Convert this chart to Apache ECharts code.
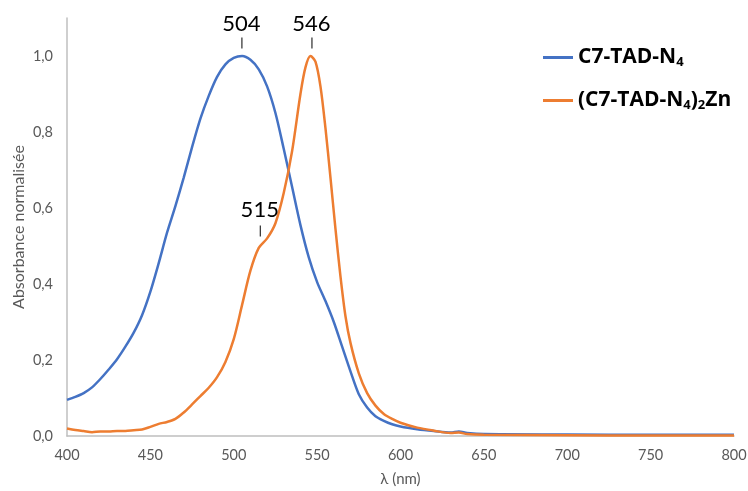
<!DOCTYPE html>
<html>
<head>
<meta charset="utf-8">
<script src="https://cdn.jsdelivr.net/npm/echarts@6/dist/echarts.min.js"></script>
<style>html,body{margin:0;padding:0;background:#fff}#c{width:748px;height:491px}</style>
</head>
<body>
<div id="c"></div>
<script>
const seriesNames = ['C7-TAD-N4', '(C7-TAD-N4)2Zn'];
const xTicks = [400, 450, 500, 550, 600, 650, 700, 750, 800];
const yTicks = [0, 0.2, 0.4, 0.6, 0.8, 1.0];

const blueX = [400,405,410,415,420,425,430,435,440,445,450,455,460,465,470,475,480,485,490,495,500,505,510,515,520,525,530,535,540,545,550,555,560,565,570,575,580,585,590,595,600,610,620,630,635,640,650,700,750,800];
const blueY = [0.095,0.103,0.113,0.128,0.15,0.175,0.202,0.235,0.272,0.318,0.38,0.455,0.535,0.605,0.68,0.76,0.835,0.895,0.945,0.978,0.995,1.0,0.99,0.965,0.92,0.85,0.755,0.655,0.555,0.47,0.405,0.355,0.3,0.235,0.17,0.11,0.075,0.052,0.04,0.031,0.025,0.018,0.013,0.009,0.012,0.008,0.005,0.004,0.003,0.003];

const orangeX = [400,405,410,415,420,425,430,435,440,445,450,455,460,465,470,475,480,485,490,495,500,505,510,515,520,525,530,535,540,543,546,549,552,555,558,561,564,567,570,575,580,585,590,595,600,610,620,630,635,640,650,700,750,800];
const orangeY = [0.02,0.016,0.013,0.01,0.012,0.012,0.013,0.013,0.015,0.017,0.024,0.032,0.037,0.045,0.062,0.083,0.105,0.127,0.155,0.195,0.255,0.345,0.435,0.495,0.52,0.56,0.64,0.75,0.9,0.97,1.0,0.985,0.92,0.81,0.68,0.545,0.42,0.315,0.245,0.165,0.113,0.08,0.058,0.045,0.035,0.022,0.014,0.008,0.009,0.005,0.003,0.002,0.001,0.001];

const peaks = [
  {series: 0, label: '504', x: 504, y: 1.0},
  {series: 1, label: '546', x: 546, y: 1.0},
  {series: 1, label: '515', x: 515, y: 0.5}
];

const FONT = 'Lato, "Open Sans", sans-serif';
const pair = (xs, ys) => xs.map((x, i) => [x, ys[i]]);

function peakMarks(si) {
  const d = [];
  peaks.filter(p => p.series === si).forEach(p => {
    d.push({coord: [p.x, p.y], symbol: 'rect', symbolSize: [1, 11], symbolOffset: [1.5, p.y >= 1 ? -13 : -15],
      itemStyle: {color: '#000'}, label: {show: false}});
    d.push({coord: [p.x, p.y], symbol: 'rect', symbolSize: [1, 1], symbolOffset: [1, p.y >= 1 ? -32 : -36],
      itemStyle: {color: 'rgba(0,0,0,0)'},
      label: {show: true, position: 'inside', formatter: p.label, color: '#000', fontSize: 22, fontFamily: FONT}});
  });
  return {silent: true, animation: false, data: d};
}

const chart = echarts.init(document.getElementById('c'));
chart.setOption({
  animation: false,
  backgroundColor: '#fff',
  grid: {left: 67, right: 14, top: 18, bottom: 55, containLabel: false, outerBoundsMode: 'none'},
  legend: {
    orient: 'vertical', left: 538, top: 41, itemGap: 20,
    itemWidth: 30, itemHeight: 3, icon: 'rect',
    data: seriesNames,
    formatter: n => n === seriesNames[0] ? '{a|C7-TAD-N}{s|4}' : '{a|(C7-TAD-N}{s|4}{a|)}{s|2}{a|Zn}',
    textStyle: {
      rich: {
        a: {fontSize: 21, fontWeight: 'bold', color: '#000', fontFamily: '"Open Sans", sans-serif', lineHeight: 24},
        s: {fontSize: 13, fontWeight: 'bold', color: '#000', fontFamily: '"Open Sans", sans-serif', lineHeight: 24, padding: [10, 0, 0, 0]}
      }
    }
  },
  xAxis: {
    type: 'value', min: 400, max: 800, interval: 50,
    name: 'λ (nm)', nameLocation: 'middle', nameGap: 36, nameMoveOverlap: false,
    nameTextStyle: {color: '#595959', fontSize: 15, fontFamily: FONT},
    axisLine: {show: true, lineStyle: {color: '#BFBFBF', width: 1.5}},
    axisTick: {show: false}, splitLine: {show: false},
    axisLabel: {color: '#595959', fontSize: 14.5, fontFamily: FONT, margin: 12,
      formatter: v => xTicks.includes(v) ? String(v) : ''}
  },
  yAxis: {
    type: 'value', min: 0, max: 1.1, interval: 0.2,
    name: 'Absorbance normalisée', nameLocation: 'middle', nameGap: 40, nameMoveOverlap: false,
    nameTextStyle: {color: '#595959', fontSize: 16, fontFamily: FONT},
    axisLine: {show: true, lineStyle: {color: '#BFBFBF', width: 1.5}},
    axisTick: {show: false}, splitLine: {show: false},
    axisLabel: {color: '#595959', fontSize: 14.5, fontFamily: FONT, margin: 14, showMaxLabel: false,
      formatter: v => yTicks.some(t => Math.abs(t - v) < 1e-6) ? v.toFixed(1).replace('.', ',') : ''}
  },
  series: [
    {name: seriesNames[0], type: 'line', data: pair(blueX, blueY), smooth: 0.3, showSymbol: false,
      lineStyle: {color: '#4472C4', width: 2.5}, itemStyle: {color: '#4472C4'}, markPoint: peakMarks(0)},
    {name: seriesNames[1], type: 'line', data: pair(orangeX, orangeY), smooth: 0.3, showSymbol: false,
      lineStyle: {color: '#ED7D31', width: 2.5}, itemStyle: {color: '#ED7D31'}, markPoint: peakMarks(1)}
  ]
});
</script>
</body>
</html>
